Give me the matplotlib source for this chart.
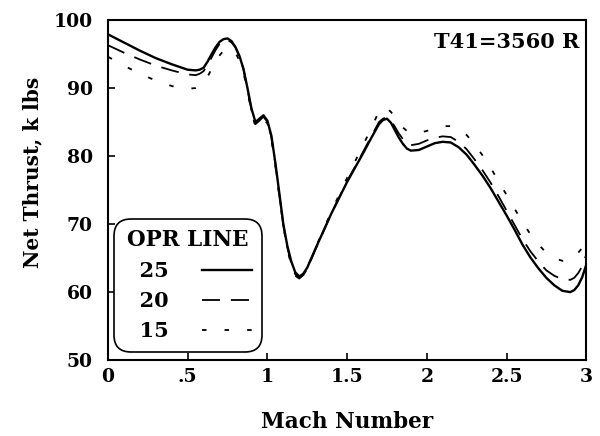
import matplotlib
matplotlib.use("Agg")
import matplotlib.pyplot as plt

# valores (Mach vs empuje neto, k lbs)
mach = [0, 0.1, 0.2, 0.3, 0.4, 0.45, 0.5, 0.55, 0.575, 0.6, 0.625, 0.65, 0.675,
        0.7, 0.725, 0.75, 0.775, 0.8, 0.825, 0.85, 0.875, 0.9, 0.925, 0.95,
        0.975, 1.0, 1.025, 1.05, 1.075, 1.1, 1.125, 1.15, 1.175, 1.2, 1.225,
        1.25, 1.3, 1.4, 1.5, 1.6, 1.65, 1.7, 1.725, 1.75, 1.775, 1.8, 1.825,
        1.85, 1.875, 1.9, 1.95, 2.0, 2.05, 2.1, 2.15, 2.2, 2.25, 2.3, 2.35,
        2.4, 2.45, 2.5, 2.55, 2.6, 2.65, 2.7, 2.75, 2.8, 2.85, 2.9, 2.925,
        2.95, 2.975, 3.0]

opr25 = [97.9, 96.7, 95.5, 94.4, 93.5, 93.1, 92.7, 92.6, 92.7, 93.0, 93.9, 95.0,
         96.0, 96.8, 97.2, 97.3, 96.9, 96.0, 94.7, 92.8, 90.0, 87.0, 85.0, 85.5,
         86.0, 85.2, 83.0, 79.0, 74.5, 70.0, 66.8, 64.5, 62.9, 62.3, 62.7,
         63.6, 66.3, 71.5, 76.2, 80.4, 82.6, 84.7, 85.3, 85.5, 84.9, 83.8, 82.7,
         81.8, 81.1, 80.8, 80.9, 81.4, 81.9, 82.1, 82.0, 81.3, 80.2, 78.7, 77.1,
         75.3, 73.3, 71.3, 69.2, 67.0, 65.1, 63.5, 62.1, 61.0, 60.2, 60.0, 60.3,
         61.0, 62.2, 64.0]

opr20 = [96.3, 95.2, 94.2, 93.3, 92.6, 92.3, 92.0, 91.9, 92.1, 92.5, 93.4, 94.5,
         95.6, 96.5, 97.0, 97.1, 96.7, 96.0, 94.6, 92.8, 89.8, 86.8, 84.7, 85.2,
         85.8, 85.0, 82.8, 78.8, 74.3, 69.8, 66.6, 64.2, 62.6, 62.0, 62.5,
         63.4, 66.2, 71.5, 76.3, 80.6, 82.8, 85.0, 85.5, 85.7, 85.2, 84.3, 83.3,
         82.5, 81.9, 81.6, 81.8, 82.3, 82.7, 82.9, 82.8, 82.1, 81.0, 79.5, 77.9,
         76.1, 74.1, 72.0, 69.9, 67.8, 66.0, 64.5, 63.2, 62.4, 61.9, 61.8, 62.1,
         62.8, 63.8, 65.5]

opr15 = [94.6, 93.3, 92.1, 91.1, 90.3, 90.0, 89.9, 90.0, 90.3, 90.8, 91.7, 92.8,
         93.9, 94.8, 95.5, 95.8, 95.7, 95.2, 94.0, 92.3, 89.5, 86.5, 84.3, 84.6,
         85.5, 84.8, 82.6, 78.6, 74.1, 69.6, 66.4, 63.8, 62.4, 62.0, 62.5,
         63.6, 66.4, 71.8, 76.8, 81.6, 84.0, 86.6, 87.2, 87.0, 86.5, 85.7, 84.9,
         84.2, 83.7, 83.4, 83.4, 83.7, 84.1, 84.4, 84.4, 84.0, 83.1, 81.7, 80.1,
         78.3, 76.3, 74.3, 72.3, 70.3, 68.5, 67.0, 65.8, 65.0, 64.6, 64.8, 65.1,
         65.8, 66.5, 67.5]

xticks = [0, 0.5, 1, 1.5, 2, 2.5, 3]
xlabels = ['0', '.5', '1', '1.5', '2', '2.5', '3']
yticks = [50, 60, 70, 80, 90, 100]

plt.rcParams['font.family'] = 'DejaVu Serif'
plt.rcParams['font.weight'] = 'bold'

fig = plt.figure(figsize=(6, 4.36), dpi=100)
ax = fig.add_axes([0.18, 0.174, 0.797, 0.78])

ax.plot(mach, opr25, color='black', lw=1.7, label='  25')
ax.plot(mach, opr20, color='black', lw=1.3, dashes=[10, 6], label='  20')
ax.plot(mach, opr15, color='black', lw=1.3, dashes=[2.5, 10], label='  15')

ax.set_xlim(0, 3)
ax.set_ylim(50, 100)
ax.set_xticks(xticks)
ax.set_xticklabels(xlabels)
ax.set_yticks(yticks)
ax.tick_params(direction='in', length=5, width=1.2, labelsize=13.5)
ax.tick_params(axis='x', pad=6)
ax.tick_params(axis='y', pad=11)
for s in ax.spines.values():
    s.set_linewidth(1.5)

ax.set_xlabel('Mach Number', fontsize=15.5, fontweight='bold', labelpad=18)
ax.set_ylabel('Net Thrust, k lbs', fontsize=14.5, fontweight='bold')
ax.yaxis.set_label_coords(-0.138, 0.553)

ax.text(0.985, 0.965, 'T41=3560 R', transform=ax.transAxes, ha='right', va='top',
        fontsize=15, fontweight='bold')

leg = ax.legend(loc='lower left', bbox_to_anchor=(0.0, 0.006), title='OPR LINE',
                markerfirst=False, handlelength=2.4, handletextpad=1.6,
                labelspacing=0.48, borderpad=0.3, fancybox=True,
                prop={'size': 15, 'weight': 'bold'},
                title_fontproperties={'size': 15.5, 'weight': 'bold'},
                framealpha=1)
fr = leg.get_frame()
fr.set_edgecolor('black')
fr.set_linewidth(1.2)
fr.set_boxstyle('round,pad=0.2,rounding_size=0.8')

fig.savefig('out.png', dpi=100)
